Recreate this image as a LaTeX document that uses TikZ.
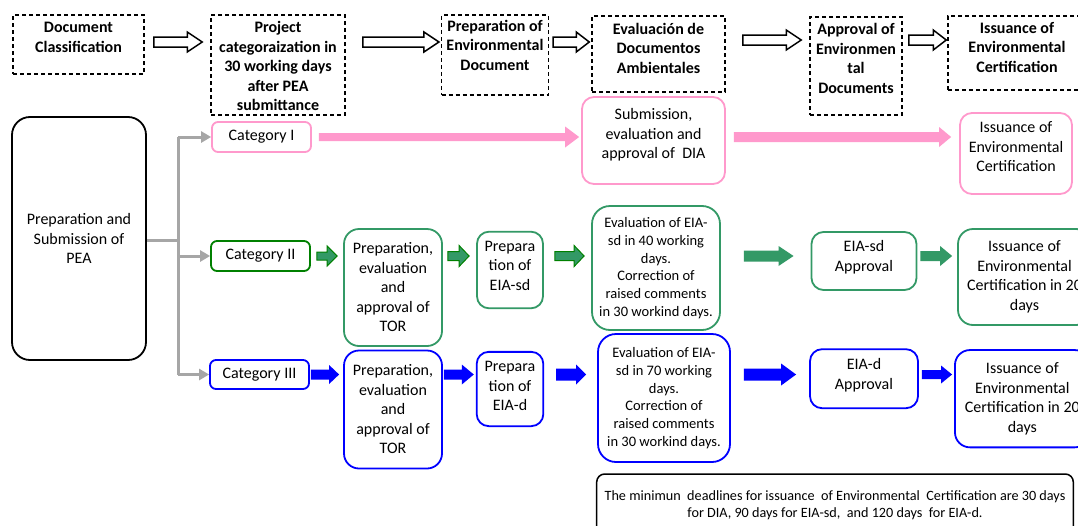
\documentclass[tikz,border=0pt]{standalone}
\usepackage{fontspec}
\setmainfont{Carlito}
\usetikzlibrary{calc,arrows.meta}
\definecolor{pinkc}{HTML}{FF99CC}
\definecolor{grnb}{HTML}{339966}
\definecolor{grnd}{HTML}{008000}
\definecolor{bluec}{HTML}{0000FF}
\definecolor{grayc}{HTML}{A6A6A6}
% top-aligned text: width, height, first-baseline offset, text
\newcommand\tb[4]{\parbox[c][#2][t]{#1}{\centering\rule{0pt}{#3}#4\par}}
% centred text: width, height, text
\newcommand\cb[3]{\parbox[c][#2][c]{#1}{\centering #3\par}}
% block arrow: style, start, end, half shaft, half head, head length
\newcommand\barrow[6]{\path[#1] let \p1=#2, \p2=#3 in
  (\x1,{\y1+#4pt}) -- ({\x2-#6pt},{\y1+#4pt}) -- ({\x2-#6pt},{\y1+#5pt}) -- (\x2,\y1)
  -- ({\x2-#6pt},{\y1-#5pt}) -- ({\x2-#6pt},{\y1-#4pt}) -- (\x1,{\y1-#4pt}) -- cycle;}
\tikzset{
  hbox/.style={draw, dash pattern=on 4pt off 3pt, line width=1.5pt, inner sep=0pt,
    font=\bfseries\fontsize{16}{19.5}\selectfont},
  rbox/.style={draw, rounded corners=12pt, line width=1.8pt, inner sep=0pt,
    font=\fontsize{16}{19.5}\selectfont},
  evfont/.style={font=\fontsize{14.5}{17.7}\selectfont},
  pinkbox/.style={rbox, draw=pinkc},
  grnbox/.style={rbox, draw=grnb},
  bluebox/.style={rbox, draw=bluec},
  hollow/.style={draw=black, fill=white, line width=1.5pt, line join=miter},
  pinkarr/.style={fill=pinkc},
  garr/.style={fill=grnb, draw=grnd, line width=1pt},
  gbig/.style={fill=grnb},
  barr/.style={fill=bluec},
  gl/.style={draw=grayc, line width=3pt},
}
\begin{document}
\begin{tikzpicture}[x=1pt, y=-1pt]
\useasboundingbox (0,0) rectangle (1078,525);
\fill[white] (0,0) rectangle (1078,525);
\clip (0,0) rectangle (1078,525);
\coordinate (yA) at (0,42);
\coordinate (yB) at (0,40);

% header
\node[hbox] (h1) at (78.5,44.5) {\tb{131pt}{59pt}{17.5pt}{Document\\Classification}};
\node[hbox] (h2) at (278,65) {\tb{134pt}{100pt}{17.8pt}{Project\\categoraization in\\30 working days\\after PEA\\submittance}};
\node[hbox] (h3) at (495,55) {\tb{106.6pt}{80pt}{16pt}{Preparation of\\Environmental\\Document}};
\node[hbox] (h4) at (658.5,54) {\tb{133pt}{76pt}{18pt}{Evaluación de\\Documentos\\Ambientales}};
\node[hbox] (h5) at (856,66) {\tb{92pt}{98pt}{17.5pt}{Approval of\\Environmen\\tal\\Documents}};
\node[hbox] (h6) at (1017,53) {\tb{138pt}{74pt}{17pt}{Issuance of\\Environmental\\Certification}};

\barrow{hollow}{($(h1.east|-yA)+(9,0)$)}{($(h2.west|-yA)+(-8,0)$)}{5}{10}{15}
\barrow{hollow}{($(h2.east|-yA)+(17,0)$)}{($(h3.west|-yA)+(-2,0)$)}{5}{10}{15}
\barrow{hollow}{($(h3.east|-yA)+(4,0)$)}{($(h4.west|-yA)+(-2,0)$)}{5}{10}{13}
\barrow{hollow}{($(h4.east|-yB)+(17,0)$)}{($(h5.west|-yB)+(-8,0)$)}{5}{10}{15}
\barrow{hollow}{($(h5.east|-yB)+(6,0)$)}{($(h6.west|-yB)+(-1,0)$)}{5}{10}{13}

% PEA and categories
\node[rbox, rounded corners=18pt] (pea) at (79,238.5) {\cb{134pt}{243pt}{Preparation and\\Submission of\\PEA}};
\node[pinkbox, rounded corners=6pt] (c1) at (261.5,137) {\cb{99pt}{30pt}{Category I}};
\node[rbox, draw=grnd, rounded corners=6pt] (c2) at (260.5,256) {\cb{99pt}{30pt}{Category II}};
\node[bluebox, rounded corners=6pt] (c3) at (259.5,374.5) {\cb{99pt}{29pt}{Category III}};

\coordinate (br) at (178,240);
\draw[gl] (pea.east|-br) -- (br);
\draw[gl] (br|-c1) -- (br|-c3);
\draw[gl, -{Triangle[length=10pt,width=11pt]}] (br|-c1) -- (c1.west);
\draw[gl, -{Triangle[length=10pt,width=11pt]}] (br|-c2) -- (c2.west);
\draw[gl, -{Triangle[length=10pt,width=11pt]}] (br|-c3) -- (c3.west);

% category I row
\node[pinkbox] (sub) at (653.5,140.5) {\tb{143pt}{87pt}{22.5pt}{Submission,\\evaluation and\\approval of\ \ DIA}};
\node[pinkbox] (iss1) at (1016,153.5) {\tb{112pt}{81pt}{19.8pt}{Issuance of\\Environmental\\Certification}};
\barrow{pinkarr}{($(c1.east)+(7,0)$)}{($(sub.west|-c1)+(-2,0)$)}{4}{10.5}{14}
\barrow{pinkarr}{($(sub.east|-c1)+(8,0)$)}{($(iss1.west|-c1)+(-8,0)$)}{5}{10}{12}

% category II row
\node[grnbox, rounded corners=15pt] (tor2) at (393,287.5) {\cb{98pt}{117pt}{Preparation,\\evaluation\\and\\approval of\\TOR}};
\node[grnbox] (prep2) at (510,270) {\tb{66pt}{76.6pt}{19.5pt}{Prepara\\tion of\\EIA-sd}};
\node[grnbox, evfont, rounded corners=18pt] (eval2) at (656,268) {\cb{128pt}{124pt}{Evaluation of EIA-\\sd in 40 working\\days.\\Correction of\\raised comments\\in 30 workind days.}};
\node[grnbox] (app2) at (864,261) {\tb{105pt}{58pt}{19.5pt}{EIA-sd\\Approval}};
\node[grnbox, rounded corners=15pt] (iss2) at (1024.5,277) {\cb{133pt}{96pt}{Issuance of\\Environmental\\Certification in 20\\days}};
\barrow{garr}{($(c2.east)+(6,0)$)}{($(tor2.west|-c2)+(-6,0)$)}{4}{10}{10}
\barrow{garr}{($(tor2.east|-c2)+(5,0)$)}{($(prep2.west|-c2)+(-7,0)$)}{4.5}{10.5}{10}
\barrow{garr}{($(prep2.east|-c2)+(11,0)$)}{($(eval2.west|-c2)+(-7,0)$)}{4.5}{10.5}{10}
\barrow{gbig}{($(eval2.east|-c2)+(23,0)$)}{($(app2.west|-c2)+(-17,0)$)}{5.5}{10}{15}
\barrow{gbig}{($(app2.east|-c2)+(3,0)$)}{($(iss2.west|-c2)+(-5,0)$)}{5}{10}{12}

% category III row
\node[bluebox, rounded corners=15pt] (tor3) at (393,409.5) {\cb{98pt}{118pt}{Preparation,\\evaluation\\and\\approval of\\TOR}};
\node[bluebox] (prep3) at (510,389) {\tb{66.6pt}{74.3pt}{20pt}{Prepara\\tion of\\EIA-d}};
\node[bluebox, evfont, rounded corners=18pt] (eval3) at (664,398) {\cb{132pt}{128pt}{Evaluation of EIA-\\sd in 70 working\\days.\\Correction of\\raised comments\\in 30 workind days.}};
\node[bluebox] (app3) at (864,378.7) {\tb{108pt}{59pt}{20.5pt}{EIA-d\\Approval}};
\node[bluebox, rounded corners=15pt] (iss3) at (1022.3,398.7) {\cb{134.7pt}{97.3pt}{Issuance of\\Environmental\\Certification in 20\\days}};
\barrow{barr}{($(c3.east)+(1,0)$)}{($(tor3.west|-c3)+(-4,0)$)}{5}{9.5}{10}
\barrow{barr}{($(tor3.east|-c3)+(1,0)$)}{($(prep3.west|-c3)+(-2,0)$)}{5}{10}{12}
\barrow{barr}{($(prep3.east|-c3)+(12,0)$)}{($(eval3.west|-c3)+(-11,0)$)}{6}{10}{10}
\barrow{barr}{($(eval3.east|-c3)+(13,0)$)}{($(app3.west|-c3)+(-13,0)$)}{6}{11}{15}
\barrow{barr}{($(app3.east|-c3)+(3,0)$)}{($(iss3.west|-c3)+(-2,0)$)}{4.5}{9}{11}

% note
\node[draw, line width=1.5pt, rounded corners=8pt, inner sep=0pt, font=\fontsize{14.2}{16.7}\selectfont] (note) at (835,505)
  {\cb{476.6pt}{62pt}{The minimun\ \ deadlines for issuance\ \ of Environmental\ \ Certification are 30 days\\for DIA, 90 days for EIA-sd,\ \ and 120 days\ \ for EIA-d.}};
\end{tikzpicture}
\end{document}
